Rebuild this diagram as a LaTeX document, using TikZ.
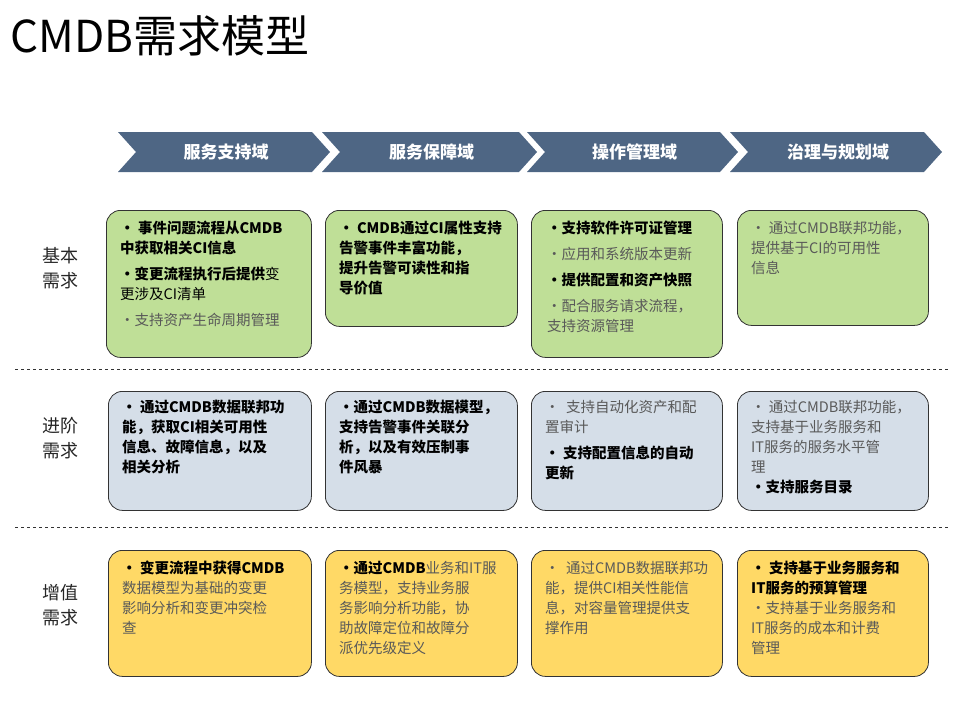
\documentclass[tikz,border=0pt]{standalone}
\usepackage{fontspec}
\setmainfont{Noto Sans CJK SC}
\begin{document}
\begin{tikzpicture}[x=1pt,y=-1pt]
\definecolor{chev}{HTML}{4E6684}
\definecolor{gfill}{HTML}{BFDF97}
\definecolor{bfill}{HTML}{D5DEE8}
\definecolor{yfill}{HTML}{FFD966}
\definecolor{gtxt}{HTML}{595959}
\tikzset{
 box/.style={draw=black!80,line width=0.8pt,rounded corners=14pt,anchor=north west,inner sep=0pt},
 txt/.style={anchor=north west,align=left,inner sep=0pt,font=\fontsize{14.5}{20}\selectfont},
 chevtxt/.style={text=white,font=\fontsize{17}{20}\selectfont\bfseries},
 rowlab/.style={align=left,font=\fontsize{18}{25}\selectfont,text=black!85},
 dash line/.style={dashed,line width=0.8pt,black!80}
}
\useasboundingbox (0,0) rectangle (960,720);
\node[anchor=west,font=\fontsize{44}{50}\selectfont,inner sep=0pt] (title) at (10,36) {CMDB需求模型};
% chevrons
\foreach \a/\b/\n/\t in {118/330/c1/服务支持域,322/537/c2/服务保障域,527/738/c3/操作管理域,730/942/c4/治理与规划域}{
 \fill[chev] (\a,132) -- (\b-18,132) -- (\b,152) -- (\b-18,172) -- (\a,172) -- (\a+18,152) -- cycle;
 \node[chevtxt] (\n) at ({(\a+\b)/2+2},152) {\t};
}
% row labels
\node[rowlab] (r1) at (60,268) {基本\\需求};
\node[rowlab] (r2) at (60,438) {进阶\\需求};
\node[rowlab] (r3) at (60,605) {增值\\需求};
\coordinate (d1a) at (15,369); \coordinate (d1b) at (950,369);
\coordinate (d2a) at (15,527); \coordinate (d2b) at (950,527);
\draw[dash line] (d1a) -- (d1b);
\draw[dash line] (d2a) -- (d2b);
% row 1 boxes
\node[box,fill=gfill,minimum width=205,minimum height=147] (b11) at (106,210) {};
\node[box,fill=gfill,minimum width=192,minimum height=116] (b12) at (325,210) {};
\node[box,fill=gfill,minimum width=191,minimum height=147] (b13) at (531,210) {};
\node[box,fill=gfill,minimum width=191,minimum height=115] (b14) at (737,210) {};
% row 2
\node[box,fill=bfill,minimum width=203,minimum height=119] (b21) at (108,391) {};
\node[box,fill=bfill,minimum width=192,minimum height=119] (b22) at (325,391) {};
\node[box,fill=bfill,minimum width=191,minimum height=119] (b23) at (531,391) {};
\node[box,fill=bfill,minimum width=191,minimum height=119] (b24) at (737,391) {};
% row 3
\node[box,fill=yfill,minimum width=203,minimum height=126] (b31) at (108,550) {};
\node[box,fill=yfill,minimum width=192,minimum height=126] (b32) at (325,550) {};
\node[box,fill=yfill,minimum width=191,minimum height=126] (b33) at (531,550) {};
\node[box,fill=yfill,minimum width=191,minimum height=126] (b34) at (737,550) {};
% texts row 1
\node[txt] (t11) at ([shift={(14,11)}]b11.north west) {\textbf{• 事件问题流程从CMDB}\\\textbf{中获取相关CI信息}\\[6pt]\textbf{•变更流程执行后提供}变\\更涉及CI清单\\[6pt]\textcolor{gtxt}{•支持资产生命周期管理}};
\node[txt] (t12) at ([shift={(14,11)}]b12.north west) {\textbf{• CMDB通过CI属性支持}\\\textbf{告警事件丰富功能，}\\\textbf{提升告警可读性和指}\\\textbf{导价值}};
\node[txt] (t13) at ([shift={(16,11)}]b13.north west) {\textbf{•支持软件许可证管理}\\[6pt]\textcolor{gtxt}{•应用和系统版本更新}\\[6pt]\textbf{•提供配置和资产快照}\\[6pt]\textcolor{gtxt}{•配合服务请求流程，}\\\textcolor{gtxt}{支持资源管理}};
\node[txt,text=gtxt] (t14) at ([shift={(14,11)}]b14.north west) {• 通过CMDB联邦功能，\\提供基于CI的可用性\\信息};
% texts row 2
\node[txt] (t21) at ([shift={(14,9)}]b21.north west) {\textbf{• 通过CMDB数据联邦功}\\\textbf{能，获取CI相关可用性}\\\textbf{信息、故障信息，以及}\\\textbf{相关分析}};
\node[txt] (t22) at ([shift={(14,9)}]b22.north west) {\textbf{•通过CMDB数据模型，}\\\textbf{支持告警事件关联分}\\\textbf{析，以及有效压制事}\\\textbf{件风暴}};
\node[txt] (t23) at ([shift={(14,9)}]b23.north west) {\textcolor{gtxt}{•\ \ 支持自动化资产和配}\\\textcolor{gtxt}{置审计}\\[6pt]\textbf{• 支持配置信息的自动}\\\textbf{更新}};
\node[txt] (t24) at ([shift={(14,9)}]b24.north west) {\textcolor{gtxt}{• 通过CMDB联邦功能，}\\\textcolor{gtxt}{支持基于业务服务和}\\\textcolor{gtxt}{IT服务的服务水平管}\\\textcolor{gtxt}{理}\\\textbf{•支持服务目录}};
% texts row 3
\node[txt] (t31) at ([shift={(14,11)}]b31.north west) {\textbf{• 变更流程中获得CMDB}\\\textcolor{gtxt}{数据模型为基础的变更}\\\textcolor{gtxt}{影响分析和变更冲突检}\\\textcolor{gtxt}{查}};
\node[txt] (t32) at ([shift={(14,11)}]b32.north west) {\textbf{•通过CMDB}\textcolor{gtxt}{业务和IT服}\\\textcolor{gtxt}{务模型，支持业务服}\\\textcolor{gtxt}{务影响分析功能，协}\\\textcolor{gtxt}{助故障定位和故障分}\\\textcolor{gtxt}{派优先级定义}};
\node[txt,text=gtxt] (t33) at ([shift={(14,11)}]b33.north west) {•\ \ 通过CMDB数据联邦功\\能，提供CI相关性能信\\息，对容量管理提供支\\撑作用};
\node[txt] (t34) at ([shift={(14,11)}]b34.north west) {\textbf{•\ 支持基于业务服务和}\\\textbf{IT服务的预算管理}\\\textcolor{gtxt}{•支持基于业务服务和}\\\textcolor{gtxt}{IT服务的成本和计费}\\\textcolor{gtxt}{管理}};
\end{tikzpicture}
\end{document}
